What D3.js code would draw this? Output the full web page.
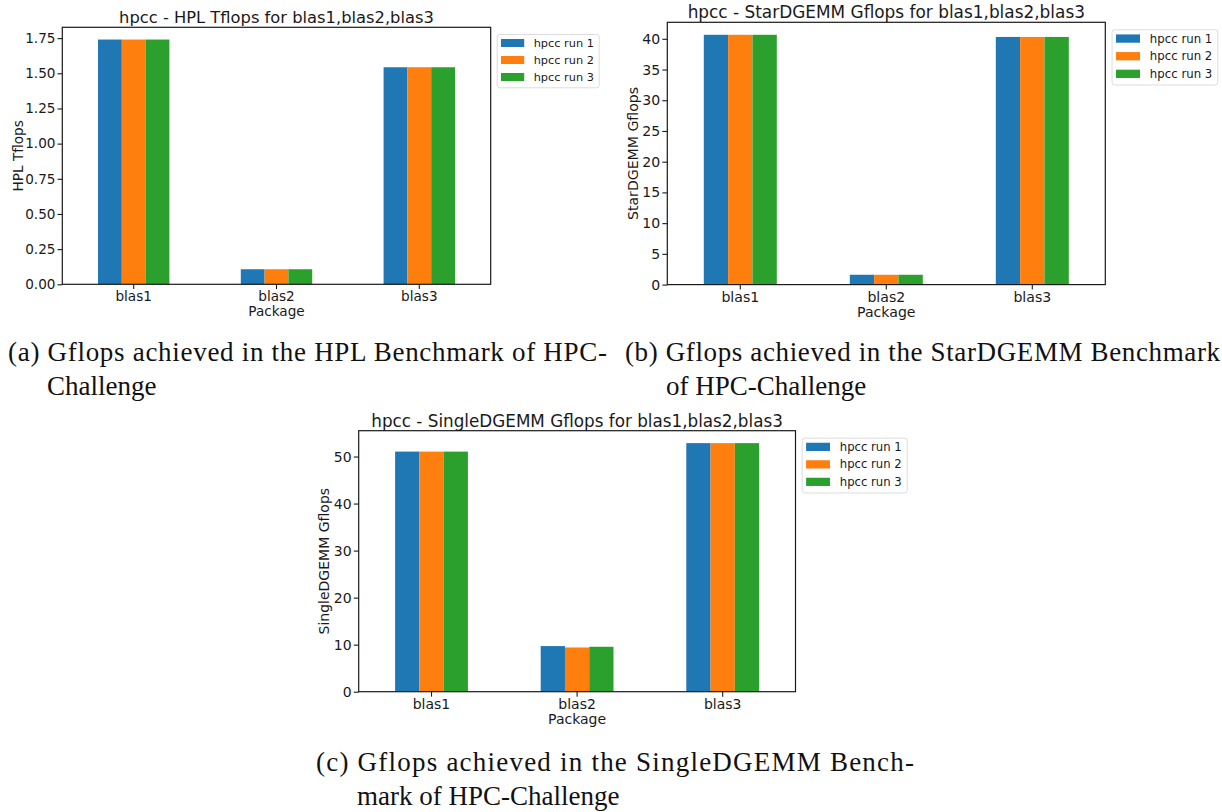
<!DOCTYPE html>
<html>
<head>
<meta charset="utf-8">
<script src="https://cdn.jsdelivr.net/npm/d3@7"></script>
<style>
  html, body { margin: 0; padding: 0; background: #fff; }
  svg { display: block; }
</style>
</head>
<body>
<svg id="fig" width="1222" height="812"></svg>
<script>
// ---------------- DATA ----------------
const categories = ["blas1", "blas2", "blas3"];
const seriesNames = ["hpcc run 1", "hpcc run 2", "hpcc run 3"];
const seriesColors = ["#1f77b4", "#ff7f0e", "#2ca02c"];

// (a) HPL Tflops
const hplRun1 = [1.740, 0.107, 1.543];
const hplRun2 = [1.740, 0.107, 1.543];
const hplRun3 = [1.740, 0.107, 1.543];
const hplTicks = [0, 0.25, 0.5, 0.75, 1.0, 1.25, 1.5, 1.75];

// (b) StarDGEMM Gflops
const starRun1 = [40.65, 1.6, 40.3];
const starRun2 = [40.65, 1.6, 40.3];
const starRun3 = [40.65, 1.6, 40.3];
const starTicks = [0, 5, 10, 15, 20, 25, 30, 35, 40];

// (c) SingleDGEMM Gflops
const singleRun1 = [51.05, 9.7, 52.85];
const singleRun2 = [51.05, 9.4, 52.85];
const singleRun3 = [51.05, 9.55, 52.85];
const singleTicks = [0, 10, 20, 30, 40, 50];

const titles = [
  "hpcc - HPL Tflops for blas1,blas2,blas3",
  "hpcc - StarDGEMM Gflops for blas1,blas2,blas3",
  "hpcc - SingleDGEMM Gflops for blas1,blas2,blas3"
];
const yLabels = ["HPL Tflops", "StarDGEMM Gflops", "SingleDGEMM Gflops"];
const xLabel = "Package";

const captionsLine1 = [
  "(a) Gflops achieved in the HPL Benchmark of HPC-",
  "(b) Gflops achieved in the StarDGEMM Benchmark",
  "(c) Gflops achieved in the SingleDGEMM Bench-"
];
const captionsLine2 = ["Challenge", "of HPC-Challenge", "mark of HPC-Challenge"];

// ---------------- LAYOUT ----------------
const svg = d3.select("#fig");
svg.append("rect").attr("width", 1222).attr("height", 812).attr("fill", "#fff");

const charts = [
  { series: [hplRun1, hplRun2, hplRun3], ticks: hplTicks, fmt: d3.format(".2f"),
    l: 62.3, r: 490.7, t: 27.3, b: 284.3, fs: 13.6, ylabX: 22.5 },
  { series: [starRun1, starRun2, starRun3], ticks: starTicks, fmt: d3.format("d"),
    l: 667.3, r: 1105.3, t: 22.3, b: 284.6, fs: 14.1, ylabX: 637.5 },
  { series: [singleRun1, singleRun2, singleRun3], ticks: singleTicks, fmt: d3.format("d"),
    l: 358.7, r: 795.5, t: 430.7, b: 691.7, fs: 14.0, ylabX: 329 }
];

const FONT = "DejaVu Sans, sans-serif";
const INK = "#1a1a1a";

charts.forEach((c, ci) => {
  const g = svg.append("g");
  const k = c.fs / 13.6;
  const ymax = d3.max(c.series.flat()) * 1.05;
  const y = d3.scaleLinear().domain([0, ymax]).range([c.b, c.t]);
  const x0 = d3.scaleBand().domain(categories).range([c.l, c.r])
    .paddingInner(0.5).paddingOuter(0.25);
  const x1 = d3.scaleBand().domain(seriesNames).range([0, x0.bandwidth()]);

  // bars
  seriesNames.forEach((s, si) => {
    g.append("g").selectAll("rect")
      .data(categories.map((cat, i) => ({ cat, v: c.series[si][i] })))
      .join("rect")
      .attr("x", d => x0(d.cat) + x1(s))
      .attr("y", d => y(d.v))
      .attr("width", x1.bandwidth())
      .attr("height", d => y(0) - y(d.v))
      .attr("fill", seriesColors[si]);
  });

  // y axis
  const yAxis = d3.axisLeft(y).tickValues(c.ticks).tickFormat(c.fmt)
    .tickSize(4.8 * k).tickPadding(2 * k);
  const ya = g.append("g").attr("transform", `translate(${c.l},0)`).call(yAxis);
  ya.select(".domain").remove();
  ya.selectAll("line").attr("stroke", INK).attr("stroke-width", 1.1);
  ya.selectAll("text").attr("font-family", FONT).attr("font-size", c.fs).attr("fill", INK);

  // x axis
  const xAxis = d3.axisBottom(x0).tickSize(4.8 * k).tickPadding(2.2 * k);
  const xa = g.append("g").attr("transform", `translate(0,${c.b})`).call(xAxis);
  xa.select(".domain").remove();
  xa.selectAll("line").attr("stroke", INK).attr("stroke-width", 1.1);
  xa.selectAll("text").attr("font-family", FONT).attr("font-size", c.fs).attr("fill", INK);

  // frame
  g.append("rect").attr("x", c.l).attr("y", c.t)
    .attr("width", c.r - c.l).attr("height", c.b - c.t)
    .attr("fill", "none").attr("stroke", INK).attr("stroke-width", 1.2);

  // title
  g.append("text").attr("x", (c.l + c.r) / 2).attr("y", c.t - 4)
    .attr("text-anchor", "middle").attr("font-family", FONT)
    .attr("font-size", c.fs * 1.2).attr("fill", INK).text(titles[ci]);

  // x label
  g.append("text").attr("x", (c.l + c.r) / 2).attr("y", c.b + 31.5 * k)
    .attr("text-anchor", "middle").attr("font-family", FONT)
    .attr("font-size", c.fs).attr("fill", INK).text(xLabel);

  // y label
  g.append("text")
    .attr("transform", `translate(${c.ylabX},${(c.t + c.b) / 2}) rotate(-90)`)
    .attr("text-anchor", "middle").attr("font-family", FONT)
    .attr("font-size", c.fs).attr("fill", INK).text(yLabels[ci]);

  // legend
  const lfs = c.fs * 0.833;
  const lx = c.r + 6.5 * k, ly = c.t + 7.2 * k;
  const lg = g.append("g").attr("transform", `translate(${lx},${ly})`);
  lg.append("rect").attr("x", 0).attr("y", 0)
    .attr("width", 102 * k).attr("height", 53.3 * k).attr("rx", 2.5).attr("ry", 2.5)
    .attr("fill", "#fff").attr("stroke", "#dcdcdc").attr("stroke-width", 1);
  seriesNames.forEach((s, si) => {
    const cy = (8.5 + 17 * si) * k;
    lg.append("rect").attr("x", 3.8 * k).attr("y", cy - 4 * k)
      .attr("width", 23.2 * k).attr("height", 8 * k).attr("fill", seriesColors[si]);
    lg.append("text").attr("x", 36.5 * k).attr("y", cy + 4 * k)
      .attr("font-family", FONT).attr("font-size", lfs).attr("fill", INK).text(s);
  });
});

// ---------------- CAPTIONS ----------------
const SERIF = "Liberation Serif, DejaVu Serif, serif";
const capPos = [
  { x1: 8, w1: 599, x2: 47, y1: 361, y2: 395 },
  { x1: 625, w1: 595, x2: 666, y1: 361, y2: 395 },
  { x1: 316, w1: 598, x2: 357, y1: 771, y2: 805 }
];
capPos.forEach((p, i) => {
  svg.append("text").attr("x", p.x1).attr("y", p.y1)
    .attr("font-family", SERIF).attr("font-size", 27).attr("fill", "#111")
    .attr("textLength", p.w1).attr("lengthAdjust", "spacing")
    .text(captionsLine1[i]);
  svg.append("text").attr("x", p.x2).attr("y", p.y2)
    .attr("font-family", SERIF).attr("font-size", 27).attr("fill", "#111")
    .text(captionsLine2[i]);
});
</script>
</body>
</html>
